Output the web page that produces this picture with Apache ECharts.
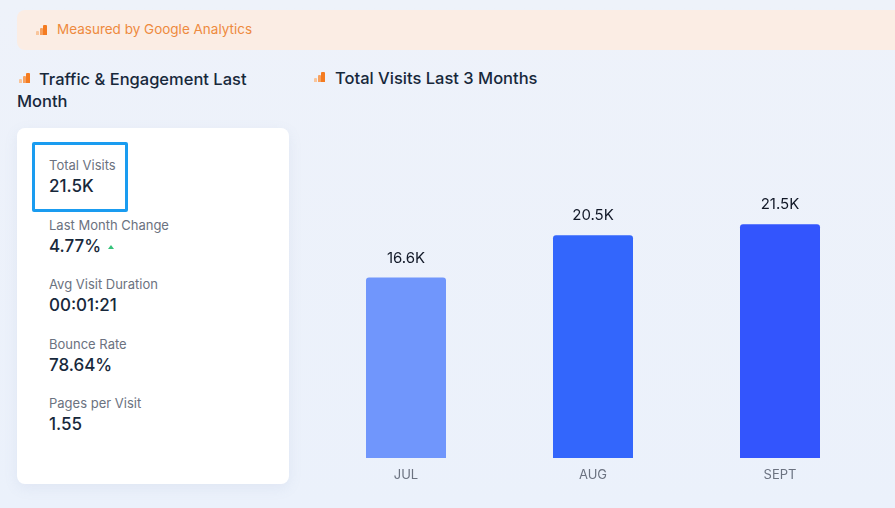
<!DOCTYPE html>
<html>
<head>
<meta charset="utf-8">
<script src="https://cdn.jsdelivr.net/npm/echarts@6/dist/echarts.min.js"></script>
<style>
  html, body { margin: 0; padding: 0; }
  body {
    width: 895px; height: 508px; overflow: hidden; position: relative;
    background: linear-gradient(180deg, #eef2fa 0%, #ebf1fb 100%);
    font-family: Inter, "Noto Sans", sans-serif;
  }
  .banner {
    position: absolute; left: 17px; top: 10px; width: 900px; height: 40px;
    background: #fbede4; border-radius: 8px;
  }
  .banner .txt {
    position: absolute; left: 40px; top: 11px; font-size: 13.5px; color: #ee8a3e;
  }
  .ico { position: absolute; width: 12px; height: 10px; }
  .ico i { position: absolute; bottom: 0; width: 3px; border-radius: 1px 1px 0 0; }
  .ico i:nth-child(1) { left: 0; height: 4px; background: #f9c59b; }
  .ico i:nth-child(2) { left: 3.5px; height: 7px; background: #f7a15f; }
  .ico i:nth-child(3) { left: 7px; width: 4px; height: 10px; background: #f47b20; }
  .title {
    position: absolute; font-size: 16.5px; font-weight: 500; color: #17283b; line-height: 22px;
  }
  .card {
    position: absolute; left: 17px; top: 128px; width: 272px; height: 356px;
    background: #fff; border-radius: 8px; box-shadow: 0 4px 14px rgba(120,140,180,0.10);
  }
  .hl {
    position: absolute; left: 15px; top: 14px; width: 90px; height: 64px;
    border: 3px solid #1a9cf0; border-radius: 2px;
  }
  .lbl { position: absolute; left: 32px; font-size: 13px; color: #6b7280; line-height: 16px; }
  .val { position: absolute; left: 32px; font-size: 17px; font-weight: 500; color: #17283b; line-height: 20px; }
  .up {
    display: inline-block; width: 0; height: 0; margin-left: 7px; vertical-align: 3px;
    border-left: 3.5px solid transparent; border-right: 3.5px solid transparent;
    border-bottom: 4px solid #35c27a;
  }
  #chart { position: absolute; left: 300px; top: 120px; width: 595px; height: 388px; }
</style>
</head>
<body>
<div class="banner">
  <div class="ico" style="left:19px;top:15px"><i></i><i></i><i></i></div>
  <div class="txt">Measured by Google Analytics</div>
</div>

<div class="ico" style="left:19px;top:73px"><i></i><i></i><i></i></div>
<div class="title" style="left:17px;top:68px;width:260px;text-indent:22px">Traffic &amp; Engagement Last Month</div>

<div class="ico" style="left:314px;top:72px"><i></i><i></i><i></i></div>
<div class="title" style="left:335px;top:67px">Total Visits Last 3 Months</div>

<div class="card" id="stats">
  <div class="hl"></div>
</div>

<div id="chart"></div>

<script>
// 左侧指标
var statLabels = ['Total Visits', 'Last Month Change', 'Avg Visit Duration', 'Bounce Rate', 'Pages per Visit'];
var statValues = ['21.5K', '4.77%', '00:01:21', '78.64%', '1.55'];

// 柱状图数据
var months = ['JUL', 'AUG', 'SEPT'];
var visits = [16600, 20500, 21500];
var barColors = ['#7096fc', '#3366fc', '#3355fd'];

var card = document.getElementById('stats');
for (var i = 0; i < statLabels.length; i++) {
  var rowTop = 29 + i * 59.5;
  var l = document.createElement('div');
  l.className = 'lbl';
  l.style.top = rowTop + 'px';
  l.textContent = statLabels[i];
  card.appendChild(l);
  var v = document.createElement('div');
  v.className = 'val';
  v.style.top = (rowTop + 19) + 'px';
  v.textContent = statValues[i];
  if (i == 1) {
    var arrow = document.createElement('span');
    arrow.className = 'up';
    v.appendChild(arrow);
  }
  card.appendChild(v);
}

var myChart = echarts.init(document.getElementById('chart'));
var option = {
  animation: false,
  grid: { left: 12.5, right: 21.5, top: 12, bottom: 50 },
  xAxis: {
    type: 'category',
    data: months,
    axisLine: { show: false },
    axisTick: { show: false },
    axisLabel: { color: '#6b7280', fontSize: 13, margin: 11, fontFamily: 'Inter' },
  },
  yAxis: {
    type: 'value',
    min: 0,
    max: 30000,
    show: false,
  },
  series: [
    {
      type: 'bar',
      barWidth: 80,
      data: visits.map(function(v, i) {
        return { value: v, itemStyle: { color: barColors[i] } };
      }),
      itemStyle: { borderRadius: [3, 3, 0, 0] },
      label: {
        show: true,
        position: 'top',
        distance: 12,
        color: '#111827',
        fontSize: 15,
        fontFamily: 'Inter',
        formatter: function(p) {
          return (p.value / 1000).toFixed(1) + 'K';
        },
      },
    },
  ],
};
myChart.setOption(option);
</script>
</body>
</html>
